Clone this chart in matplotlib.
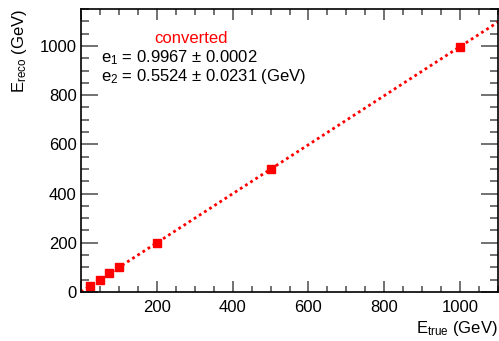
import matplotlib
matplotlib.use("Agg")
import matplotlib.pyplot as plt
from matplotlib.ticker import MultipleLocator, FuncFormatter

# data
e_true = [25, 50, 75, 100, 200, 500, 1000]
e_reco = [25.5, 50.4, 75.3, 100.2, 199.9, 498.9, 997.3]
fit_x = [0, 1100]
e1, e1_err = 0.9967, 0.0002
e2, e2_err = 0.5524, 0.0231
fit_y = [e1 * x + e2 for x in fit_x]

plt.rcParams["font.family"] = "Liberation Sans"
plt.rcParams["mathtext.fontset"] = "custom"
plt.rcParams["mathtext.rm"] = "Liberation Sans"
plt.rcParams["mathtext.it"] = "Liberation Sans:italic"

fig = plt.figure(figsize=(4.99, 3.41), dpi=100)
ax = fig.add_axes([81 / 499, 49 / 341, 417 / 499, 283 / 341])

ax.plot(fit_x, fit_y, linestyle=(0, (1, 1.2)), color="red", linewidth=2)
ax.plot(e_true, e_reco, "s", color="red", markersize=5.5, linestyle="none")

ax.set_xlim(0, 1100)
ax.set_ylim(0, 1150)
ax.xaxis.set_major_locator(MultipleLocator(200))
ax.xaxis.set_minor_locator(MultipleLocator(50))
ax.yaxis.set_major_locator(MultipleLocator(200))
ax.yaxis.set_minor_locator(MultipleLocator(50))
# no "0" label on the x axis
ax.xaxis.set_major_formatter(FuncFormatter(lambda v, p: "" if v == 0 else "%d" % v))

ax.tick_params(axis="both", which="both", direction="in", top=True, right=True,
               labelsize=12, color="0.35", width=1.2)
ax.tick_params(axis="x", which="major", length=8, pad=6)
ax.tick_params(axis="x", which="minor", length=4)
ax.tick_params(axis="y", which="major", length=12, pad=3)
ax.tick_params(axis="y", which="minor", length=6)
for sp in ax.spines.values():
    sp.set_linewidth(1.2)

ax.set_xlabel(r"E$_{\mathrm{true}}$ (GeV)", fontsize=12, loc="right")
ax.xaxis.set_label_coords(1.0, -0.095)
ax.xaxis.label.set_va("top")
fig.text(10 / 499, 1 - 9 / 341, r"E$_{\mathrm{reco}}$ (GeV)", fontsize=12,
         rotation=90, ha="left", va="top")

ax.text(0.263, 0.894, "converted", color="red", fontsize=12,
        transform=ax.transAxes, ha="center", va="center")
ax.text(0.048, 0.827, "e$_1$ = %.4f $\\pm$ %.4f" % (e1, e1_err), fontsize=12,
        transform=ax.transAxes, ha="left", va="center")
ax.text(0.048, 0.761, "e$_2$ = %.4f $\\pm$ %.4f (GeV)" % (e2, e2_err), fontsize=12,
        transform=ax.transAxes, ha="left", va="center")

fig.savefig("out.png", dpi=100)
